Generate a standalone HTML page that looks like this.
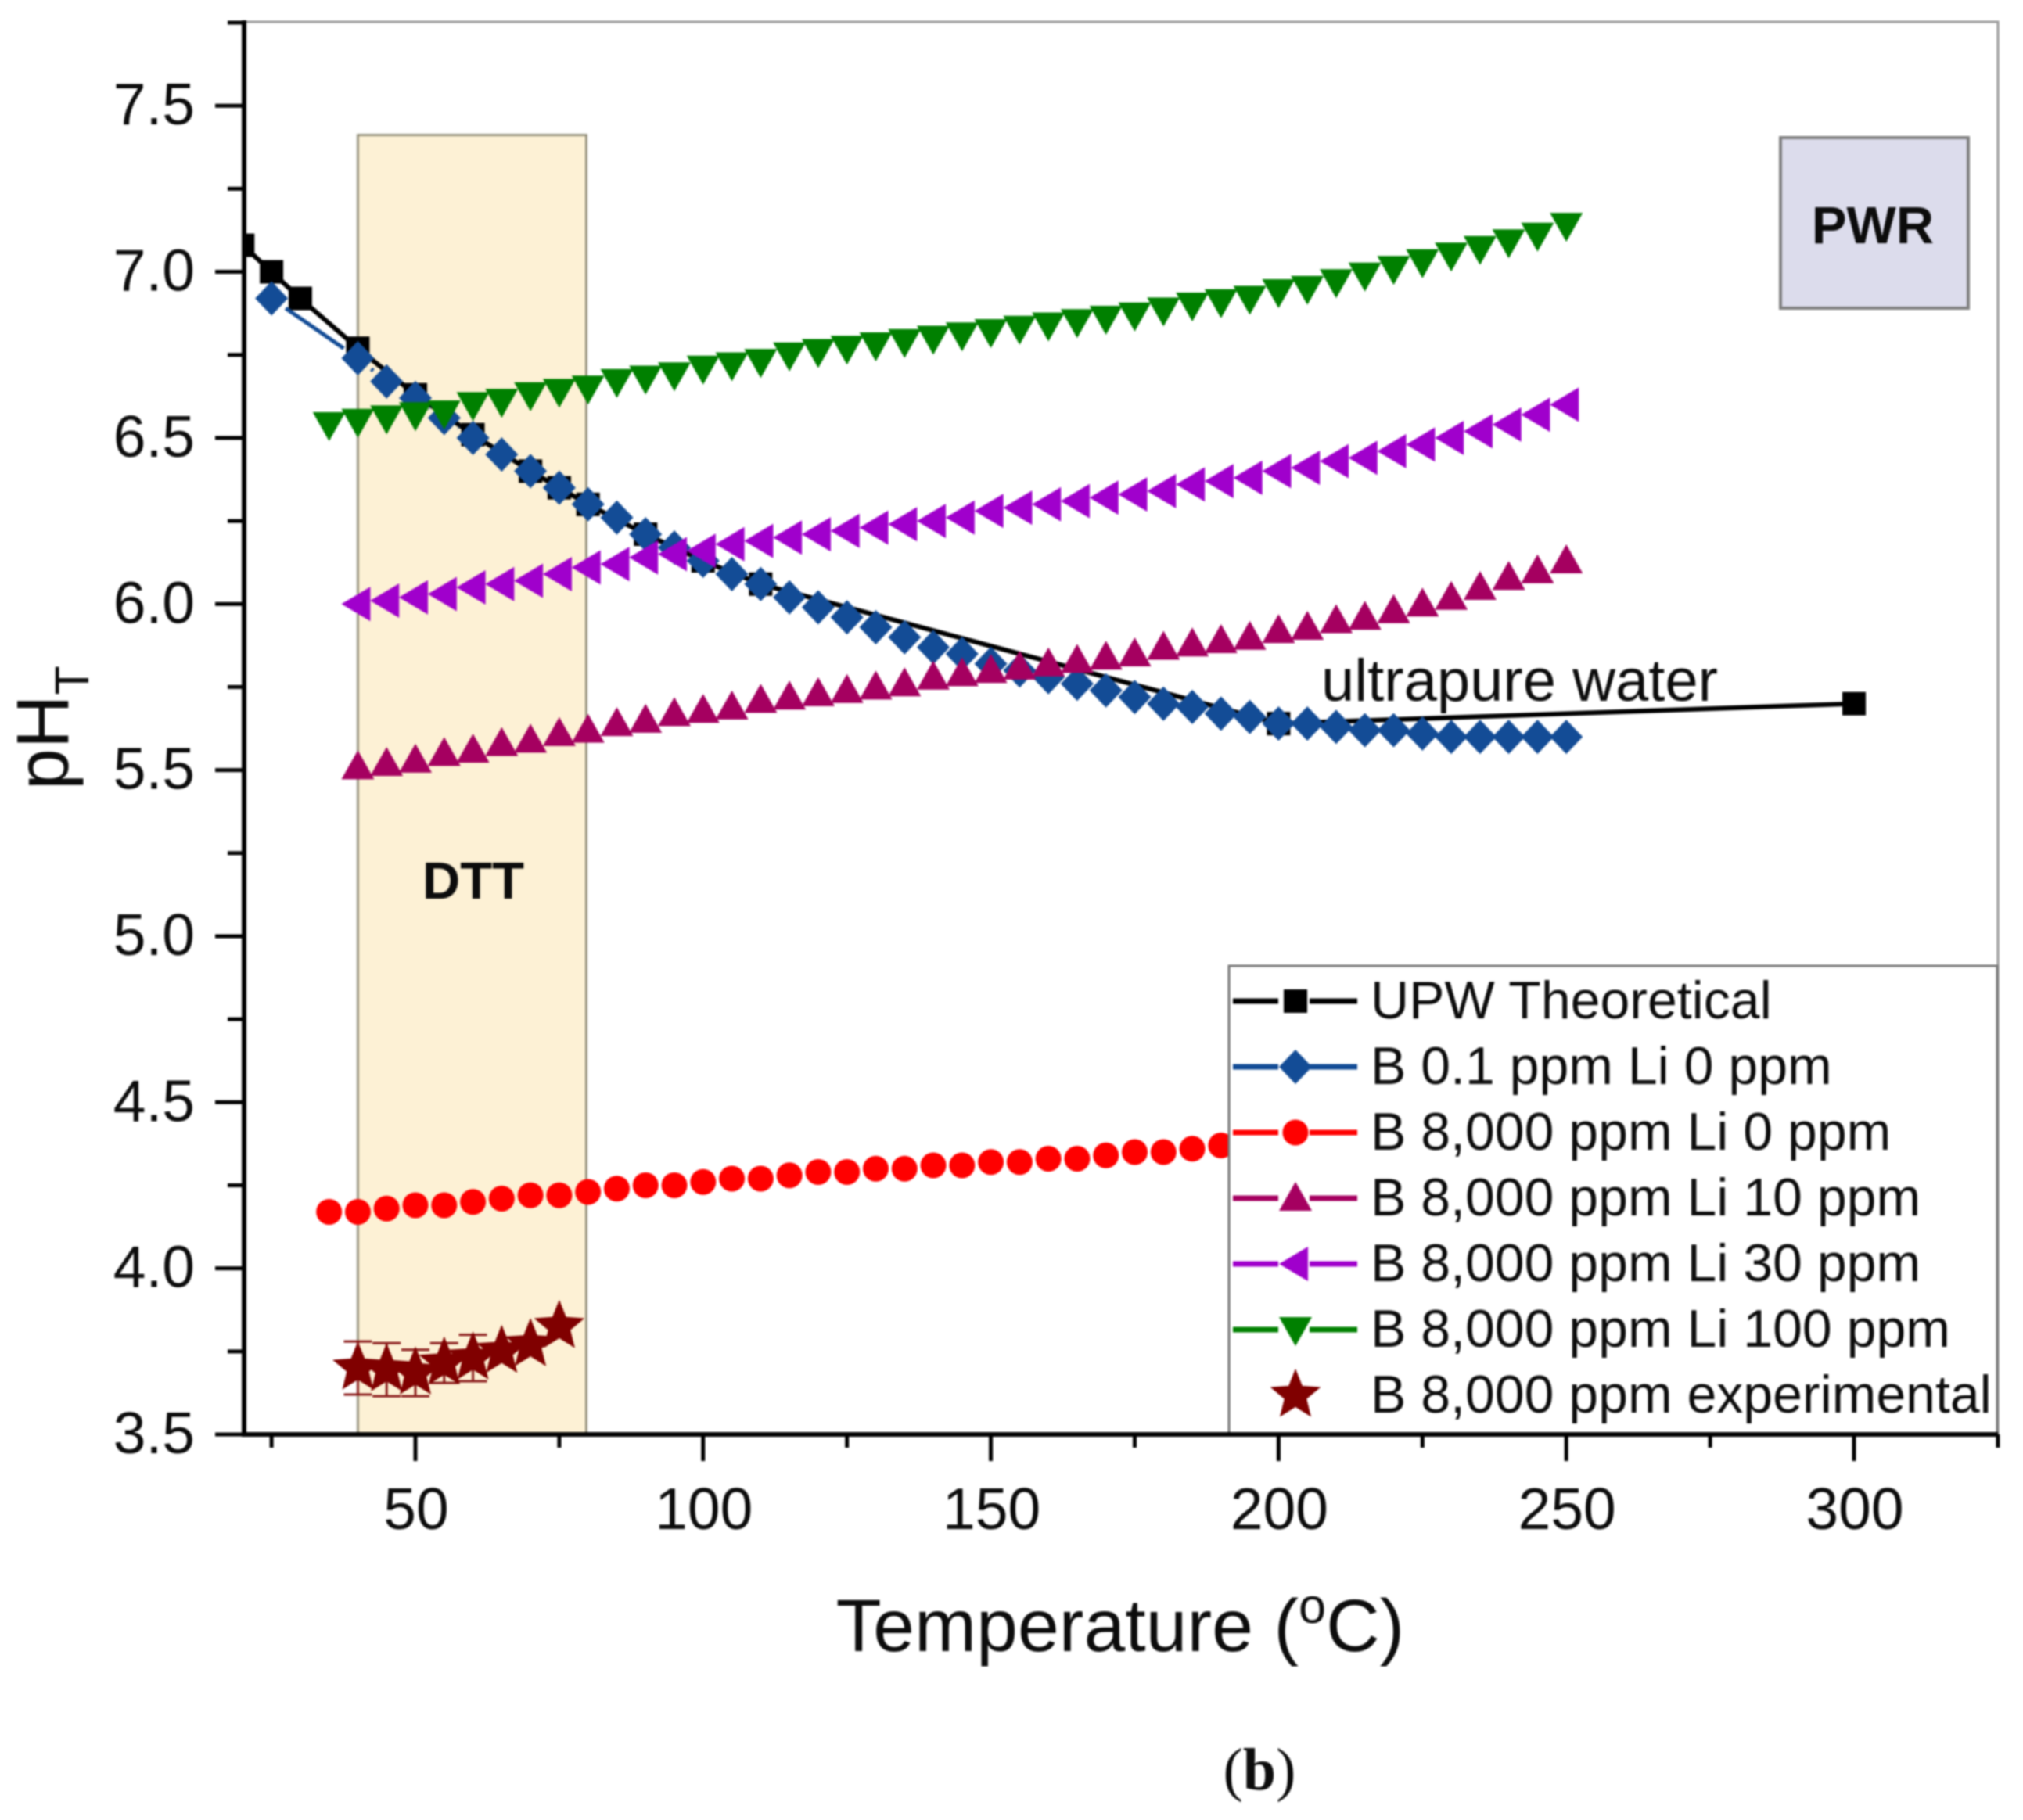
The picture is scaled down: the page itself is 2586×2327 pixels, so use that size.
<!DOCTYPE html>
<html lang="en">
<head>
<meta charset="utf-8">
<title>pH vs Temperature chart</title>
<style>
html,body{margin:0;padding:0;background:#fff;width:2586px;height:2327px;overflow:hidden}
svg{display:block;filter:blur(1px)}
text{font-family:"Liberation Sans",sans-serif;fill:#0c0c0c}
</style>
</head>
<body>
<svg id="chart" xmlns="http://www.w3.org/2000/svg" width="2586" height="2327" viewBox="0 0 2586 2327">
  <defs><clipPath id="plot-clip"><rect x="312" y="28" width="2242" height="1806"/></clipPath></defs>
  <rect x="0" y="0" width="2586" height="2327" fill="#fff"/>
  <g id="frame"></g>
  <g id="shade"></g>
  <g id="series" clip-path="url(#plot-clip)"></g>
  <g id="legend"></g>
  <g id="axes"></g>
  <g id="notes"></g>
  <text x="1432" y="2111" font-size="95" text-anchor="middle">Temperature (<tspan font-size="63" dy="-36">o</tspan><tspan dy="36">C)</tspan></text>
  <text transform="translate(87,1010) rotate(-90)" font-size="95">pH<tspan font-size="61" dy="26">T</tspan></text>
  <text x="1610" y="2288" font-size="76" text-anchor="middle" style="font-family:'Liberation Serif',serif">(<tspan font-weight="bold">b</tspan>)</text>
</svg>
<script>
const xTicks = [50, 100, 150, 200, 250, 300];
const xMinorTicks = [25, 75, 125, 175, 225, 275, 325];
const yTicks = [3.5, 4.0, 4.5, 5.0, 5.5, 6.0, 6.5, 7.0, 7.5];
const yMinorTicks = [3.75, 4.25, 4.75, 5.25, 5.75, 6.25, 6.75, 7.25, 7.75];

const upwTemps = [20, 25, 30, 40, 50, 60, 70, 75, 80, 90, 100, 110, 200, 300];
const upwValues = [7.08, 7.0, 6.92, 6.77, 6.63, 6.51, 6.4, 6.35, 6.3, 6.21, 6.13, 6.06, 5.64, 5.7];

const blueTemps = [25, 40, 45, 50, 55, 60, 65, 70, 75, 80, 85, 90, 95, 100, 105, 110, 115, 120, 125, 130, 135, 140, 145, 150, 155, 160, 165, 170, 175, 180, 185, 190, 195, 200, 205, 210, 215, 220, 225, 230, 235, 240, 245, 250];
const blueValues = [6.92, 6.74, 6.67, 6.62, 6.56, 6.5, 6.45, 6.4, 6.35, 6.3, 6.26, 6.21, 6.17, 6.13, 6.09, 6.06, 6.02, 5.99, 5.96, 5.93, 5.9, 5.87, 5.85, 5.82, 5.8, 5.78, 5.76, 5.74, 5.72, 5.7, 5.69, 5.67, 5.66, 5.64, 5.64, 5.63, 5.62, 5.62, 5.61, 5.6, 5.6, 5.6, 5.6, 5.6];

const redTemps = [35, 40, 45, 50, 55, 60, 65, 70, 75, 80, 85, 90, 95, 100, 105, 110, 115, 120, 125, 130, 135, 140, 145, 150, 155, 160, 165, 170, 175, 180, 185, 190, 195];
const redValues = [4.17, 4.17, 4.18, 4.19, 4.19, 4.2, 4.21, 4.22, 4.22, 4.23, 4.24, 4.25, 4.25, 4.26, 4.27, 4.27, 4.28, 4.29, 4.29, 4.3, 4.3, 4.31, 4.31, 4.32, 4.32, 4.33, 4.33, 4.34, 4.35, 4.35, 4.36, 4.37, 4.38];

const li10Temps = [40, 45, 50, 55, 60, 65, 70, 75, 80, 85, 90, 95, 100, 105, 110, 115, 120, 125, 130, 135, 140, 145, 150, 155, 160, 165, 170, 175, 180, 185, 190, 195, 200, 205, 210, 215, 220, 225, 230, 235, 240, 245, 250];
const li10Values = [5.51, 5.52, 5.53, 5.55, 5.56, 5.58, 5.59, 5.61, 5.62, 5.64, 5.65, 5.67, 5.68, 5.69, 5.71, 5.72, 5.73, 5.74, 5.75, 5.76, 5.78, 5.79, 5.8, 5.81, 5.82, 5.83, 5.84, 5.85, 5.87, 5.88, 5.89, 5.9, 5.92, 5.93, 5.95, 5.96, 5.98, 6.0, 6.02, 6.05, 6.08, 6.1, 6.13];

const li30Temps = [40, 45, 50, 55, 60, 65, 70, 75, 80, 85, 90, 95, 100, 105, 110, 115, 120, 125, 130, 135, 140, 145, 150, 155, 160, 165, 170, 175, 180, 185, 190, 195, 200, 205, 210, 215, 220, 225, 230, 235, 240, 245, 250];
const li30Values = [6.0, 6.01, 6.02, 6.03, 6.05, 6.06, 6.07, 6.09, 6.11, 6.12, 6.14, 6.15, 6.16, 6.18, 6.19, 6.2, 6.21, 6.22, 6.23, 6.24, 6.25, 6.26, 6.28, 6.29, 6.3, 6.31, 6.32, 6.33, 6.34, 6.36, 6.37, 6.38, 6.4, 6.41, 6.43, 6.44, 6.46, 6.48, 6.5, 6.52, 6.54, 6.57, 6.6];

const li100Temps = [35, 40, 45, 50, 55, 60, 65, 70, 75, 80, 85, 90, 95, 100, 105, 110, 115, 120, 125, 130, 135, 140, 145, 150, 155, 160, 165, 170, 175, 180, 185, 190, 195, 200, 205, 210, 215, 220, 225, 230, 235, 240, 245, 250];
const li100Values = [6.54, 6.55, 6.56, 6.57, 6.575, 6.6, 6.61, 6.63, 6.64, 6.65, 6.67, 6.68, 6.69, 6.71, 6.72, 6.73, 6.75, 6.76, 6.77, 6.78, 6.79, 6.8, 6.81, 6.82, 6.83, 6.84, 6.85, 6.86, 6.87, 6.885, 6.9, 6.91, 6.92, 6.94, 6.95, 6.97, 6.99, 7.01, 7.03, 7.05, 7.07, 7.09, 7.11, 7.14];

const expTemps = [40, 45, 50, 55, 60, 65, 70, 75];
const expValues = [3.7, 3.695, 3.685, 3.715, 3.73, 3.75, 3.77, 3.825];
const expErrors = [0.08, 0.08, 0.07, 0.06, 0.07, 0, 0, 0];

const legendLabels = ["UPW Theoretical", "B 0.1 ppm Li 0 ppm", "B 8,000 ppm Li 0 ppm", "B 8,000 ppm Li 10 ppm", "B 8,000 ppm Li 30 ppm", "B 8,000 ppm Li 100 ppm", "B 8,000 ppm experimental"];

const NS = "http://www.w3.org/2000/svg";
const PLOT = {left: 312, right: 2554, top: 28, bottom: 1834};
function xs(t) { return 531 + (t - 50) * 7.356; }
function ys(v) { return PLOT.bottom - (v - 3.5) * 424.7; }

function mk(parent, tag, props) {
  const el = document.createElementNS(NS, tag);
  for (const k in props) el.setAttribute(k, props[k]);
  parent.appendChild(el);
  return el;
}
function line(parent, x1, y1, x2, y2, stroke, w) {
  return mk(parent, "line", {x1, y1, x2, y2, stroke, "stroke-width": w});
}
function pts(list) { return list.map(p => p[0].toFixed(1) + "," + p[1].toFixed(1)).join(" "); }

function drawMarker(parent, shape, cx, cy, color) {
  let el;
  if (shape === "square") {
    el = mk(parent, "rect", {x: cx - 15, y: cy - 15, width: 30, height: 30, fill: color});
  } else if (shape === "diamond") {
    el = mk(parent, "polygon", {points: pts([[cx, cy - 22], [cx + 21, cy], [cx, cy + 22], [cx - 21, cy]]), fill: color});
  } else if (shape === "circle") {
    el = mk(parent, "circle", {cx, cy, r: 16.5, fill: color});
  } else if (shape === "up") {
    el = mk(parent, "polygon", {points: pts([[cx, cy - 21], [cx + 21, cy + 16], [cx - 21, cy + 16]]), fill: color});
  } else if (shape === "left") {
    el = mk(parent, "polygon", {points: pts([[cx - 21, cy], [cx + 16, cy - 22], [cx + 16, cy + 22]]), fill: color});
  } else if (shape === "down") {
    el = mk(parent, "polygon", {points: pts([[cx, cy + 21], [cx + 21, cy - 16], [cx - 21, cy - 16]]), fill: color});
  } else {
    const p = [];
    for (let i = 0; i < 10; i++) {
      const r = i % 2 ? 15 : 34;
      const a = -Math.PI / 2 + i * Math.PI / 5;
      p.push([cx + r * Math.cos(a), cy + r * Math.sin(a)]);
    }
    el = mk(parent, "polygon", {points: pts(p), fill: color});
  }
  return el;
}

const frame = document.getElementById("frame");
const framePath = mk(frame, "path", {d: `M${PLOT.left} ${PLOT.top}H${PLOT.right}V${PLOT.bottom}`, fill: "none", stroke: "#999", "stroke-width": 3});



const shade = document.getElementById("shade");
const shadeRect = mk(shade, "rect", {x: xs(40), y: ys(7.412), width: xs(79.7) - xs(40), height: PLOT.bottom - ys(7.412), fill: "#fdf1d5", stroke: "#97937f", "stroke-width": 3});



const seriesLayer = document.getElementById("series");

function drawSeries(name, temps, values, color, shape, lineWidth, gap) {
  const g = mk(seriesLayer, "g", {});
  
  
  for (let i = 0; i + 1 < temps.length; i++) {
    const x1 = xs(temps[i]), y1 = ys(values[i]);
    const x2 = xs(temps[i + 1]), y2 = ys(values[i + 1]);
    const d = Math.hypot(x2 - x1, y2 - y1);
    if (d > 2 * gap) {
      const ux = (x2 - x1) / d, uy = (y2 - y1) / d;
      const seg = line(g, x1 + ux * gap, y1 + uy * gap, x2 - ux * gap, y2 - uy * gap, color, lineWidth);
      
      
    }
  }
  temps.forEach((t, i) => {
    const m = drawMarker(g, shape, xs(t), ys(values[i]), color);
    
    
  });
}

drawSeries("series-upw-theoretical", upwTemps, upwValues, "#000000", "square", 6, 12);
drawSeries("series-b-0-1-li-0", blueTemps, blueValues, "#134c96", "diamond", 5, 22);
drawSeries("series-b-8000-li-0", redTemps, redValues, "#ff0000", "circle", 5, 22);
drawSeries("series-b-8000-li-10", li10Temps, li10Values, "#a50060", "up", 5, 22);
drawSeries("series-b-8000-li-30", li30Temps, li30Values, "#a000cc", "left", 5, 22);
drawSeries("series-b-8000-li-100", li100Temps, li100Values, "#008000", "down", 5, 22);

const expGroup = mk(seriesLayer, "g", {});


expTemps.forEach((t, i) => {
  if (expErrors[i] > 0) {
    const cx = xs(t);
    const hi = ys(expValues[i] + expErrors[i]);
    const lo = ys(expValues[i] - expErrors[i]);
    const bar = mk(expGroup, "path", {d: `M${cx} ${hi}V${lo}M${cx - 18} ${hi}H${cx + 18}M${cx - 18} ${lo}H${cx + 18}`, fill: "none", stroke: "#8a1a1a", "stroke-width": 3});
    
    
  }
});
expTemps.forEach((t, i) => {
  const s = drawMarker(expGroup, "star", xs(t), ys(expValues[i]), "#800000");
  
  
});

const legendLayer = document.getElementById("legend");
const legendBox = mk(legendLayer, "rect", {x: 1571, y: 1235, width: 982, height: 599, fill: "#fff", stroke: "#777", "stroke-width": 3});


const legendColors = ["#000000", "#134c96", "#ff0000", "#a50060", "#a000cc", "#008000", "#800000"];
const legendShapes = ["square", "diamond", "circle", "up", "left", "down", "star"];
legendLabels.forEach((label, i) => {
  const rowY = 1280 + i * 84;
  const g = mk(legendLayer, "g", {});
  
  
  if (i < 6) {
    const a = line(g, 1576, rowY, 1634, rowY, legendColors[i], 7);
    
    
    const b = line(g, 1674, rowY, 1735, rowY, legendColors[i], 7);
    
    
  }
  const m = drawMarker(g, legendShapes[i], 1656, rowY, legendColors[i]);
  
  
  const t = mk(g, "text", {x: 1752, y: rowY + 22, "font-size": 68});
  t.textContent = label;
  
  
});

const axes = document.getElementById("axes");
const yAxisLine = line(axes, PLOT.left, PLOT.top - 2, PLOT.left, PLOT.bottom + 3, "#000", 6);


const xAxisLine = line(axes, PLOT.left, PLOT.bottom, PLOT.right, PLOT.bottom, "#000", 6);



xTicks.forEach(t => {
  const tick = line(axes, xs(t), PLOT.bottom, xs(t), PLOT.bottom + 34, "#000", 5);
  
  
  const lab = mk(axes, "text", {x: xs(t) + 1, y: 1955, "font-size": 75, "text-anchor": "middle"});
  lab.textContent = String(t);
  
  
});
xMinorTicks.forEach(t => {
  const tick = line(axes, xs(t), PLOT.bottom, xs(t), PLOT.bottom + 17, "#000", 5);
  
  
});
yTicks.forEach(v => {
  const tick = line(axes, PLOT.left - 37, ys(v), PLOT.left, ys(v), "#000", 5);
  
  
  const lab = mk(axes, "text", {x: 249, y: ys(v) + 24, "font-size": 75, "text-anchor": "end"});
  lab.textContent = v.toFixed(1);
  
  
});
yMinorTicks.forEach(v => {
  const tick = line(axes, PLOT.left - 21, ys(v), PLOT.left, ys(v), "#000", 5);
  
  
});

const notes = document.getElementById("notes");
const pwrBox = mk(notes, "rect", {x: 2276, y: 176, width: 240, height: 218, fill: "#dcdcec", stroke: "#808080", "stroke-width": 4});


const pwrText = mk(notes, "text", {x: 2394, y: 311, "font-size": 67, "font-weight": "bold", "text-anchor": "middle"});
pwrText.textContent = "PWR";


const dttText = mk(notes, "text", {x: 605, y: 1149, "font-size": 67, "font-weight": "bold", "text-anchor": "middle"});
dttText.textContent = "DTT";


const upwText = mk(notes, "text", {x: 1689, y: 896, "font-size": 76});
upwText.textContent = "ultrapure water";


</script>
</body>
</html>
